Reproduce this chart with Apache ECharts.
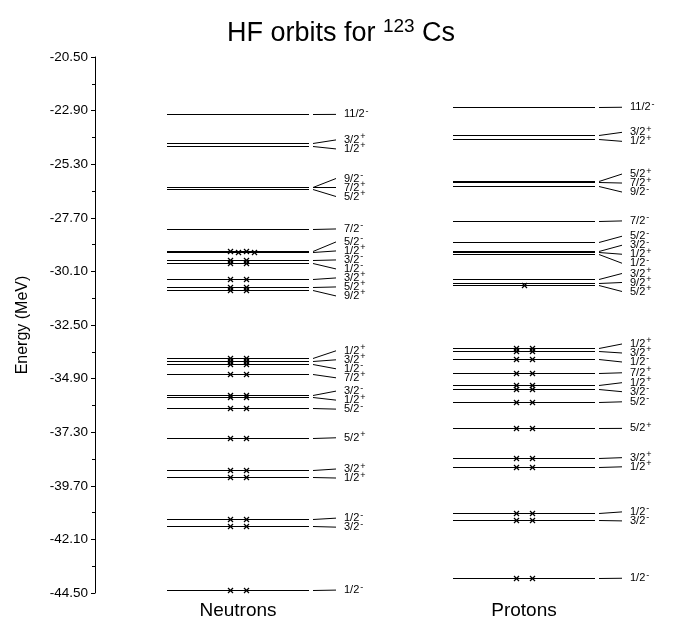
<!DOCTYPE html>
<html>
<head>
<meta charset="UTF-8">
<title>HF orbits for 123Cs</title>
<script src="https://cdn.jsdelivr.net/npm/echarts@6/dist/echarts.min.js"></script>
<style>
  html, body { margin: 0; padding: 0; background: #fff; }
  #main { width: 682px; height: 624px; }
</style>
</head>
<body>
<div id="main"></div>
<script>
// columns of the level scheme
var columns = ['Neutrons', 'Protons'];

// neutron single-particle levels (MeV), top to bottom
var neutronE = [-23.07, -24.34, -24.49, -26.30, -26.34, -26.39, -28.20, -29.20, -29.23,
  -29.59, -29.71, -30.46, -30.81, -30.93, -33.99, -34.11, -34.23, -34.71, -35.64, -35.74,
  -36.21, -37.55, -38.99, -39.31, -41.20, -41.50, -44.37];
var neutronJ = ['11/2-', '3/2+', '1/2+', '9/2-', '7/2+', '5/2+', '7/2-', '5/2-', '1/2+',
  '3/2-', '1/2-', '3/2+', '5/2+', '9/2+', '1/2+', '3/2+', '1/2-', '7/2+', '3/2-', '1/2+',
  '5/2-', '5/2+', '3/2+', '1/2+', '1/2-', '3/2-', '1/2-'];
var neutronOcc = [0, 0, 0, 0, 0, 0, 0, 2, 2, 2, 2, 2, 2, 2, 2, 2, 2, 2, 2, 2, 2, 2, 2, 2, 2, 2, 2];

// proton single-particle levels (MeV), top to bottom
var protonE = [-22.75, -23.99, -24.16, -26.05, -26.10, -26.28, -27.84, -28.78, -29.17,
  -29.25, -29.32, -30.46, -30.63, -30.70, -33.55, -33.67, -34.04, -34.64, -35.19, -35.38,
  -35.94, -37.13, -38.44, -38.85, -40.91, -41.23, -43.84];
var protonJ = ['11/2-', '3/2+', '1/2+', '5/2+', '7/2+', '9/2-', '7/2-', '5/2-', '3/2-',
  '1/2+', '1/2-', '3/2+', '9/2+', '5/2+', '1/2+', '3/2+', '1/2-', '7/2+', '1/2+', '3/2-',
  '5/2-', '5/2+', '3/2+', '1/2+', '1/2-', '3/2-', '1/2-'];
var protonOcc = [0, 0, 0, 0, 0, 0, 0, 0, 0, 0, 0, 0, 0, 1, 2, 2, 2, 2, 2, 2, 2, 2, 2, 2, 2, 2, 2];

// energy axis
var yMin = -44.5, yMax = -20.5, yStep = 2.4;

var font = '"Liberation Sans", Arial, Helvetica, sans-serif';

// push overlapping labels apart (pixel y, ascending)
function spread(ys, d) {
  var cl = ys.map(function (y, i) { return { idx: [i], sum: y }; });
  var merged = true;
  while (merged) {
    merged = false;
    for (var k = 0; k < cl.length - 1; k++) {
      var a = cl[k], b = cl[k + 1];
      var aTop = a.sum / a.idx.length - (a.idx.length - 1) * d / 2;
      var bTop = b.sum / b.idx.length - (b.idx.length - 1) * d / 2;
      if (bTop < aTop + a.idx.length * d) {
        a.idx = a.idx.concat(b.idx);
        a.sum += b.sum;
        cl.splice(k + 1, 1);
        merged = true;
        break;
      }
    }
  }
  var out = [];
  cl.forEach(function (c) {
    var top = c.sum / c.idx.length - (c.idx.length - 1) * d / 2;
    c.idx.forEach(function (i, j) { out[i] = top + j * d; });
  });
  return out;
}

function makeRender(energies, spins, occ) {
  return function (params, api) {
    var i = params.dataIndex;
    var col = api.value(0);
    var p = api.coord([col, api.value(1)]);
    var cx = Math.round(p[0]);
    var ys = energies.map(function (e) { return api.coord([col, e])[1]; });
    var py = Math.round(ys[i]) + 0.5;
    var ly = spread(ys, 9)[i];
    var j = spins[i];
    var kids = [
      { type: 'line', shape: { x1: cx - 71, y1: py, x2: cx + 71, y2: py },
        style: { stroke: '#000', lineWidth: 1 } },
      { type: 'line', shape: { x1: cx + 75, y1: py, x2: cx + 98, y2: ly },
        style: { stroke: '#000', lineWidth: 1 } },
      { type: 'text', x: cx + 106, y: ly,
        style: {
          text: '{n|' + j.slice(0, -1) + '}{s|' + j.slice(-1) + '}',
          verticalAlign: 'middle', fill: '#000',
          rich: {
            n: { fontSize: 11, fontFamily: font, fill: '#000' },
            s: { fontSize: 9, fontFamily: font, fill: '#000', padding: [0, 0, 6, 1] }
          }
        } }
    ];
    // occupied orbits
    var n = occ[i];
    var shift = (i > 0 && occ[i - 1] > 0 && n > 0 && Math.abs(ys[i] - ys[i - 1]) < 1.5) ? 8 : 0;
    var slots = n === 1 ? [0] : (n === 2 ? [-8, 8] : []);
    slots.forEach(function (s) {
      var x = cx + s + shift + 0.5, r = 2.5;
      kids.push({ type: 'line', shape: { x1: x - r, y1: py - r, x2: x + r, y2: py + r },
        style: { stroke: '#000', lineWidth: 1.2 } });
      kids.push({ type: 'line', shape: { x1: x - r, y1: py + r, x2: x + r, y2: py - r },
        style: { stroke: '#000', lineWidth: 1.2 } });
    });
    return { type: 'group', children: kids };
  };
}

var chart = echarts.init(document.getElementById('main'));

var option = {
  animation: false,
  backgroundColor: '#fff',
  title: {
    text: 'HF orbits for {sup|123} Cs',
    left: 'center',
    top: 12,
    textStyle: {
      fontSize: 27, fontWeight: 'normal', fontFamily: font, color: '#000',
      rich: { sup: { fontSize: 19, fontFamily: font, color: '#000', padding: [0, 0, 14, 0] } }
    }
  },
  grid: { left: 95, right: 15, top: 57, bottom: 31 },
  xAxis: {
    type: 'category',
    data: columns,
    axisLine: { show: false },
    axisTick: { show: false },
    axisLabel: { fontSize: 19, fontFamily: font, color: '#000', margin: 8 }
  },
  yAxis: {
    type: 'value',
    min: yMin, max: yMax, interval: yStep,
    name: 'Energy (MeV)',
    nameLocation: 'middle',
    nameGap: 64,
    nameTextStyle: { fontSize: 16, fontFamily: font, color: '#000' },
    axisLine: { show: true, lineStyle: { color: '#000', width: 1 } },
    axisTick: { show: true, length: 4, lineStyle: { color: '#000' } },
    minorTick: { show: true, splitNumber: 2, length: 3, lineStyle: { color: '#000' } },
    splitLine: { show: false },
    axisLabel: {
      fontSize: 13.5, fontFamily: font, color: '#000', margin: 7,
      formatter: function (v) { return v.toFixed(2); }
    }
  },
  series: [
    {
      type: 'custom',
      name: 'Neutrons',
      renderItem: makeRender(neutronE, neutronJ, neutronOcc),
      data: neutronE.map(function (e) { return [0, e]; }),
      encode: { x: 0, y: 1 },
      clip: false
    },
    {
      type: 'custom',
      name: 'Protons',
      renderItem: makeRender(protonE, protonJ, protonOcc),
      data: protonE.map(function (e) { return [1, e]; }),
      encode: { x: 0, y: 1 },
      clip: false
    }
  ]
};

chart.setOption(option);
</script>
</body>
</html>
